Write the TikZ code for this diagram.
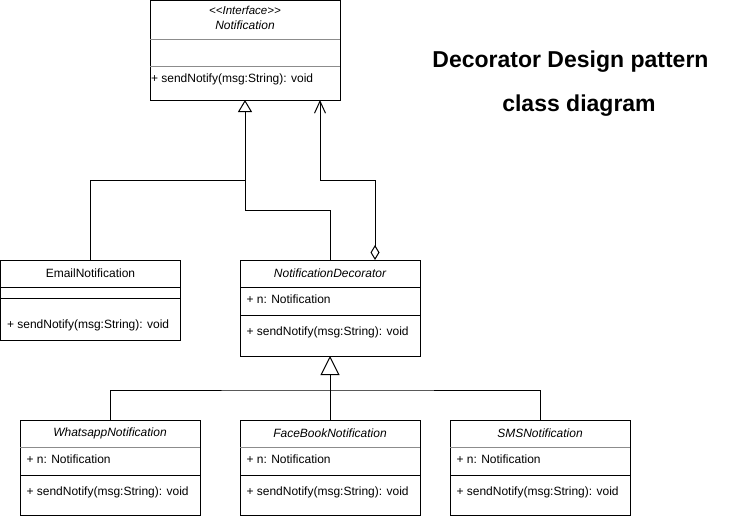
\documentclass[tikz,border=0pt]{standalone}
\usepackage{fontspec}
\setmainfont{Liberation Sans}
\usepackage{tikz}
\usetikzlibrary{arrows.meta}
\tikzset{
	classbox/.style={draw, anchor=north west, minimum width=180pt, minimum height=96pt, inner sep=0pt, outer sep=0pt},
	cname/.style={inner sep=0pt, font=\fontsize{12}{14}\selectfont\itshape},
	member/.style={anchor=west, inner sep=0pt, font=\fontsize{12}{14}\selectfont},
	lightsep/.style={black!45},
	gen/.style={-{Triangle[open, width=14pt, length=12pt]}},
	biggen/.style={-{Triangle[open, width=19pt, length=19pt]}},
	agg/.style={{Diamond[open, width=9pt, length=15pt]}-{Straight Barb[width=11pt, length=12pt]}},
	title/.style={anchor=base, inner sep=0pt, font=\fontsize{23}{27}\selectfont\bfseries}
}

\begin{document}
\begin{tikzpicture}[x=1pt, y=-1pt, line width=1pt]
	\useasboundingbox (0,0) rectangle (735,517);
	\node[classbox, minimum width=190pt, minimum height=99.5pt] (notif) at (150,0.5) {};
	\draw[lightsep] (notif.north west) ++(0,38.5) -- ++(190,0);
	\draw[lightsep] (notif.north west) ++(0,65.5) -- ++(190,0);
	\node[cname, font=\fontsize{11.5}{13}\selectfont\itshape] (notif-st) at (245,10) {\textless\kern0pt\textless Interface\textgreater\kern0pt\textgreater};
	\node[cname] (notif-name) at (245,25) {Notification};
	\node[member] (notif-m) at (150.5,79) {+ sendNotify(msg:String): void};

	\node[classbox, minimum height=80pt] (email) at (0.5,260) {};
	\draw (email.north west) ++(0,27) -- ++(180,0);
	\draw (email.north west) ++(0,38) -- ++(180,0);
	\node[cname, font=\fontsize{12}{14}\selectfont] (email-name) at (90.5,273.5) {EmailNotification};
	\node[member] (email-m) at (6.5,325) {+ sendNotify(msg:String): void};

	\node[classbox] (deco) at (240,260) {};
	\draw (deco.north west) ++(0,27) -- ++(180,0);
	\draw (deco.north west) ++(0,55) -- ++(180,0);
	\node[cname] (deco-name) at (330,273.5) {NotificationDecorator};
	\node[member] (deco-n) at (246,299.5) {+ n: Notification};
	\node[member] (deco-m) at (246,332) {+ sendNotify(msg:String): void};

	\node[classbox, minimum height=95.5pt] (what) at (20,420) {};
	\draw[lightsep] (what.north west) ++(0,27) -- ++(180,0);
	\draw (what.north west) ++(0,55) -- ++(180,0);
	\node[cname] (what-name) at (110,433.5) {WhatsappNotification};
	\node[member] (what-n) at (26,459.5) {+ n: Notification};
	\node[member] (what-m) at (26,492) {+ sendNotify(msg:String): void};

	\node[classbox, minimum height=95.5pt] (fb) at (240,420) {};
	\draw[lightsep] (fb.north west) ++(0,27) -- ++(180,0);
	\draw (fb.north west) ++(0,55) -- ++(180,0);
	\node[cname] (fb-name) at (330,433.5) {FaceBookNotification};
	\node[member] (fb-n) at (246,459.5) {+ n: Notification};
	\node[member] (fb-m) at (246,492) {+ sendNotify(msg:String): void};

	\node[classbox, minimum height=95.5pt] (sms) at (450,420) {};
	\draw[lightsep] (sms.north west) ++(0,27) -- ++(180,0);
	\draw (sms.north west) ++(0,55) -- ++(180,0);
	\node[cname] (sms-name) at (540,433.5) {SMSNotification};
	\node[member] (sms-n) at (456,459.5) {+ n: Notification};
	\node[member] (sms-m) at (456,492) {+ sendNotify(msg:String): void};

	\coordinate (j1) at (245,180);
	\coordinate (j2) at (245,210);
	\coordinate (a1) at (375,180);
	\coordinate (a2) at (320,180);
	\coordinate (j3) at (330,390);
	\draw[gen] (email.north) |- (j1) -- (notif.south);
	\draw (deco.north) |- (j2) -- (j1);
	\draw[agg] (deco.north -| a1) -- (a1) -- (a2) -- (notif.south -| a2);
	\draw[biggen] (fb.north) -- (deco.south);
	\draw (what.north) |- (j3) -| (sms.north);

	\node[title] (title1) at (570.5,67) {Decorator Design pattern};
	\node[title] (title2) at (579,111) {class diagram};
\end{tikzpicture}
\end{document}
